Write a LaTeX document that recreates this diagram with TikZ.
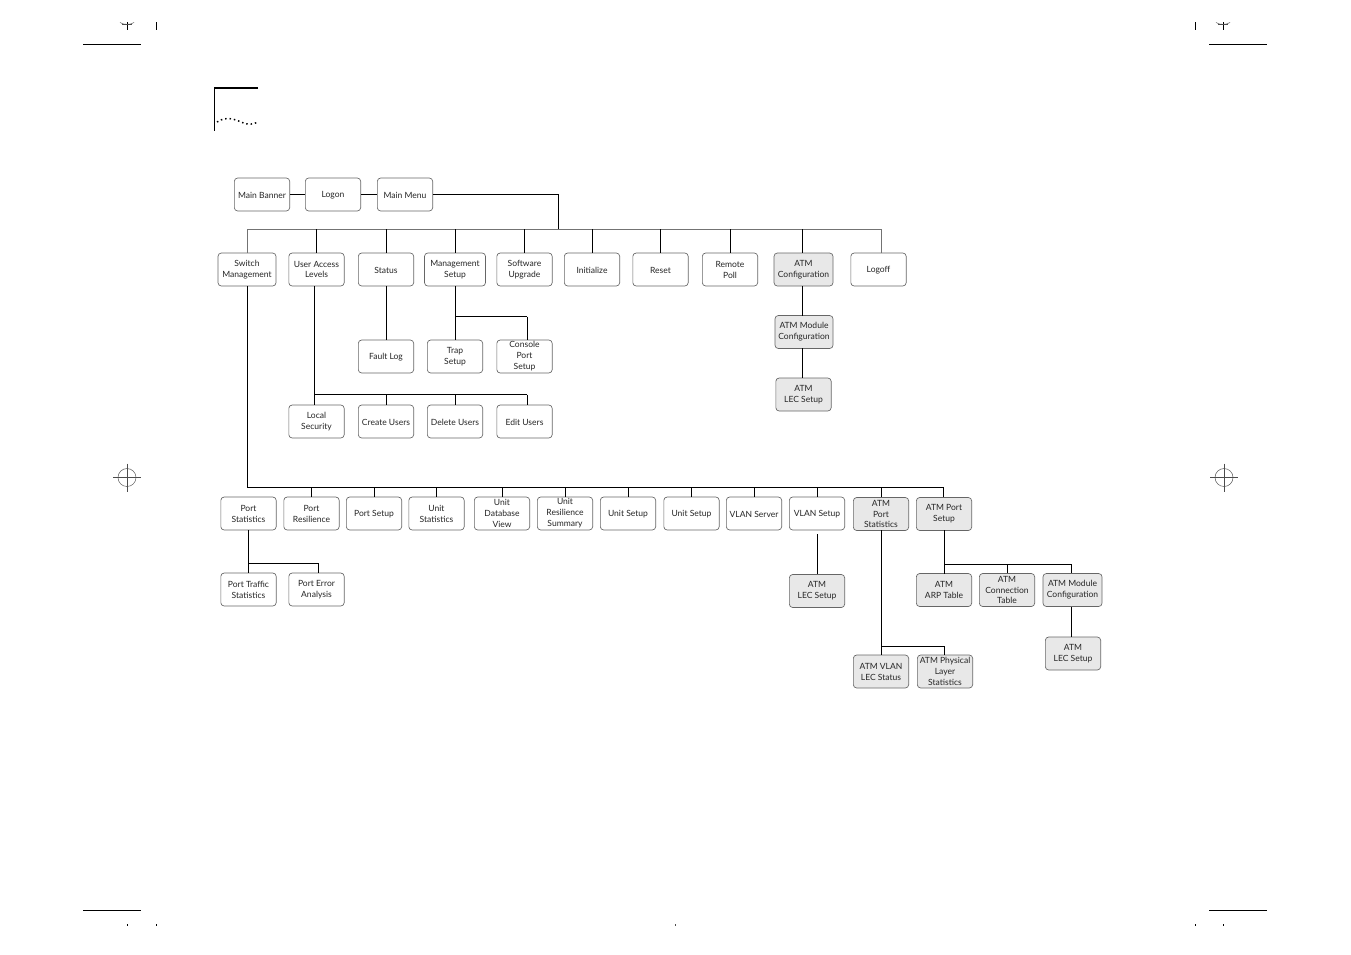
\documentclass[tikz,border=0pt]{standalone}
\usepackage{fontspec}
\setmainfont{Lato}
\tikzstyle{menubox}=[rectangle, draw=black!60, line width=0.5pt, rounded corners=2.5pt, fill=white, inner sep=0pt, minimum width=41.5pt, minimum height=24.75pt, align=center, text=black!85, font=\fontsize{6.4}{8.2}\selectfont, execute at begin node={\lineskiplimit=-10pt\rule{0pt}{6.3pt}}]
\tikzstyle{atmbox}=[menubox, fill=black!9]
\tikzstyle{wire}=[line width=0.75pt]
\tikzstyle{greywire}=[line width=0.75pt, black!55]
\tikzstyle{trimline}=[line width=0.75pt]
\tikzstyle{hairline}=[line width=0.35pt, black!70]
\newcommand{\menubox}{\node[menubox]}
\newcommand{\atmbox}{\node[atmbox]}
\newcommand{\regmark}[1]{%
	\draw[hairline] (#1) circle (9);
	\draw[hairline] ($(#1)+(-14,0)$) -- ($(#1)+(14,0)$);
	\draw[hairline] ($(#1)+(0,-14)$) -- ($(#1)+(0,14)$);
}
\usetikzlibrary{calc}
\begin{document}
\begin{tikzpicture}[x=0.75pt, y=-0.75pt]
	\useasboundingbox (0,0) rectangle (1351,954);
	%% Printer's marks round the page
	\draw[trimline] (83,44.5) -- (141,44.5);
	\draw[trimline] (1209,44.5) -- (1267,44.5);
	\draw[trimline] (83,910.5) -- (141,910.5);
	\draw[trimline] (1209,910.5) -- (1267,910.5);
	\draw[trimline] (127,22) -- (127,30);
	\draw[trimline] (156.5,22) -- (156.5,30);
	\draw[trimline] (1195.5,22) -- (1195.5,30);
	\draw[trimline] (1223,22) -- (1223,30);
	\draw[hairline] (120,22.5) .. controls (123,25) and (131,25) .. (134,22.5);
	\draw[hairline] (1216,22.5) .. controls (1219,25) and (1227,25) .. (1230,22.5);
	\draw[hairline] (122,24.5) -- (132,24.5);
	\draw[hairline] (1218,24.5) -- (1228,24.5);
	\draw[trimline] (127,924) -- (127,925.5);
	\draw[trimline] (156.5,924) -- (156.5,925.5);
	\draw[hairline] (675.5,924) -- (675.5,925.5);
	\draw[trimline] (1195.5,924) -- (1195.5,925.5);
	\draw[trimline] (1223,924) -- (1223,925.5);
	\regmark{127,477.5}
	\regmark{1224,477.5}
	%% Chapter corner with its dotted wave
	\draw[line width=1pt] (258,88) -- (214.5,88) -- (214.5,131);
	\draw[line width=1.1pt, dash pattern=on 1.1pt off 2.2pt] (217,122) .. controls (226,116) and (234,119) .. (241,122) .. controls (247,125) and (252,125) .. (258,122);

	%% Top row
	\menubox (banner) at (262,194.5) {Main Banner};
	\menubox (logon) at (333,194.5) {Logon};
	\menubox (mainmenu) at (405,194.5) {Main Menu};

	%% Main menu row
	\menubox (switch) at (247,269.5) [minimum width=43.5pt] {Switch\\Management};
	\menubox (access) at (316.5,269.5) {User Access\\Levels};
	\menubox (status) at (386,269.5) {Status};
	\menubox (mgmt) at (455,269.5) [minimum width=45.75pt] {Management\\Setup};
	\menubox (software) at (524.5,269.5) {Software\\Upgrade};
	\menubox (init) at (592,269.5) {Initialize};
	\menubox (reset) at (660.5,269.5) {Reset};
	\menubox (poll) at (730,269.5) {Remote\\Poll};
	\atmbox (atmconf) at (803.5,269.5) [minimum width=44.25pt] {ATM\\Configuration};
	\menubox (logoff) at (878.5,269.5) {Logoff};

	%% Below the main menu row
	\menubox (fault) at (386,356.5) {Fault Log};
	\menubox (trap) at (455,356.5) {Trap\\Setup};
	\menubox (console) at (524.5,356.5) {Console\\Port\\Setup};
	\menubox (local) at (316.5,421.5) {Local\\Security};
	\menubox (create) at (386,421.5) {Create Users};
	\menubox (delete) at (455,421.5) {Delete Users};
	\menubox (edit) at (524.5,421.5) {Edit Users};
	\atmbox (atmmod) at (804,332) [minimum width=43.5pt] {ATM Module\\Configuration};
	\atmbox (atmlec) at (803.5,394.5) {ATM\\LEC Setup};

	%% Switch management row
	\menubox (portstat) at (248.5,513.5) {Port\\Statistics};
	\menubox (portres) at (311.5,513.5) {Port\\Resilience};
	\menubox (portset) at (374,513.5) {Port Setup};
	\menubox (unitstat) at (436.5,513.5) {Unit\\Statistics};
	\menubox (unitdb) at (502,513.5) {Unit\\Database\\View};
	\menubox (unitres) at (565,513.5) {Unit\\Resilience\\Summary};
	\menubox (unitset) at (628,513.5) {Unit Setup};
	\menubox (unitsetb) at (691.5,513.5) {Unit Setup};
	\menubox (vlanserv) at (754,513.5) {VLAN Server};
	\menubox (vlanset) at (817,513.5) {VLAN Setup};
	\atmbox (atmstat) at (881,514) {ATM\\Port\\Statistics};
	\atmbox (atmport) at (944,514) {ATM Port\\Setup};

	%% Last rows
	\menubox (traffic) at (248.5,589.5) {Port Traffic\\Statistics};
	\menubox (error) at (316.5,589.5) {Port Error\\Analysis};
	\atmbox (veclec) at (817,591) {ATM\\LEC Setup};
	\atmbox (arp) at (944,590) {ATM\\ARP Table};
	\atmbox (conn) at (1007,590) {ATM\\Connection\\Table};
	\atmbox (modb) at (1072.5,590) [minimum width=44.25pt] {ATM Module\\Configuration};
	\atmbox (lecb) at (1073,653.5) {ATM\\LEC Setup};
	\atmbox (vlanlec) at (881,671.5) {ATM VLAN\\LEC Status};
	\atmbox (phys) at (945,671.5) {ATM Physical\\Layer\\Statistics};

	%% Points where the bus lines turn
	\coordinate (menuturn) at (558.5,229);
	\coordinate (busa) at (247,229);
	\coordinate (busb) at (881.5,229);
	\coordinate (busc) at (247,487);
	\coordinate (busd) at (943.5,487);
	\coordinate (accessdrop) at (314.5,286);
	\coordinate (accessbus) at (314.5,394.5);
	\coordinate (editbus) at (527,394.5);
	\coordinate (mgmtbus) at (455,316.5);
	\coordinate (consolebus) at (527,316.5);
	\coordinate (portbus) at (248.5,563);
	\coordinate (errorbus) at (318,563);
	\coordinate (atmbusa) at (881.5,646);
	\coordinate (atmbusb) at (944.5,646);
	\coordinate (setupbus) at (944.5,564.5);
	\coordinate (modbus) at (1071.5,564.5);
	\coordinate (vlanset) at (817,534);

	\path[greywire]
		(busa) edge (busb)
		(busa) edge (switch.north)
		(busb) edge (881.5,253)
	;
	\path[wire]
		(banner) edge (logon)
		(logon) edge (mainmenu)
		(mainmenu) edge[to path={-| (\tikztotarget)}] (menuturn)
		(switch.south) edge (busc)
		(busc) edge (busd)
		(accessdrop) edge (accessbus)
		(accessbus) edge (editbus)
		(status) edge (fault)
		(mgmt) edge (trap)
		(mgmtbus) edge (consolebus)
		(consolebus) edge (consolebus |- console.north)
		(editbus) edge (editbus |- edit.north)
		(accessbus) edge (accessbus |- local.north)
		(create |- accessbus) edge (create)
		(delete |- accessbus) edge (delete)
		(802,286) edge (802,316)
		(802,348) edge (802,378)
		(portstat) edge (traffic)
		(portbus) edge (errorbus)
		(errorbus) edge (errorbus |- error.north)
		(vlanset) edge (veclec)
		(881.5,530) edge (881.5,655)
		(atmbusa) edge (atmbusb)
		(atmbusb) edge (atmbusb |- phys.north)
		(944.5,530) edge (944.5,574)
		(setupbus) edge (modbus)
		(conn |- setupbus) edge (conn)
		(modbus) edge (modbus |- modb.north)
		(1071.5,607) edge (1071.5,637)
	;
	\path[wire]
		(access.north |- busa) edge (access.north)
		(status.north |- busa) edge (status.north)
		(mgmt.north |- busa) edge (mgmt.north)
		(software.north |- busa) edge (software.north)
		(init.north |- busa) edge (init.north)
		(reset.north |- busa) edge (reset.north)
		(poll.north |- busa) edge (poll.north)
		(802,229) edge (802,253)
		(portres.north |- busc) edge (portres.north)
		(portset.north |- busc) edge (portset.north)
		(unitstat.north |- busc) edge (unitstat.north)
		(unitdb.north |- busc) edge (unitdb.north)
		(unitres.north |- busc) edge (unitres.north)
		(unitset.north |- busc) edge (unitset.north)
		(unitsetb.north |- busc) edge (unitsetb.north)
		(vlanserv.north |- busc) edge (vlanserv.north)
		(817,487) edge (817,497)
		(atmstat.north |- busc) edge (atmstat.north)
		(busd) edge (busd |- atmport.north)
	;
\end{tikzpicture}
\end{document}
